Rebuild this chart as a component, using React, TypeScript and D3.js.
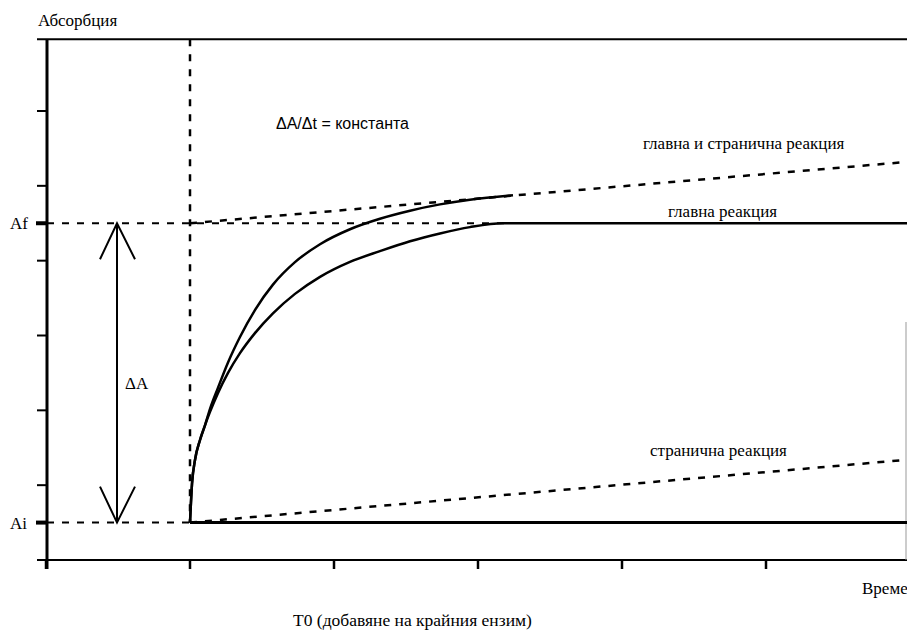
import React from "react";
import * as d3 from "d3";

// time axis (arbitrary units), T0 = 1
const xTicks = [0, 1, 2, 3, 4, 5];
// absorbance axis ticks (arbitrary units)
const yTicks = [0, 1, 2, 3, 4, 5, 6];
const Ai = 0.5;
const Af = 4.5;
const T0 = 1;
const yTop = 6.96;

// main reaction curve
const mainT = [1.0, 1.014, 1.035, 1.069, 1.104, 1.139, 1.194, 1.264, 1.347, 1.451, 1.576, 1.729, 1.903, 2.111, 2.319, 2.528, 2.736, 2.944, 3.174, 5.98];
const mainA = [0.5, 1.02, 1.34, 1.6, 1.8, 1.98, 2.23, 2.5, 2.764, 3.032, 3.296, 3.556, 3.784, 3.984, 4.128, 4.26, 4.364, 4.448, 4.5, 4.5];

// main + side reaction curve (solid part)
const bothT = [1.0, 1.014, 1.035, 1.069, 1.104, 1.139, 1.194, 1.264, 1.347, 1.451, 1.576, 1.729, 1.903, 2.111, 2.319, 2.528, 2.736, 2.944, 3.243];
const bothA = [0.5, 1.02, 1.34, 1.6, 1.8, 2.02, 2.3, 2.64, 2.98, 3.34, 3.68, 3.98, 4.22, 4.42, 4.56, 4.668, 4.752, 4.815, 4.875];

// linear (constant-rate) parts
const bothLineT = [1.0, 5.98];
const bothLineA = [4.5, 5.32];
const sideT = [1.0, 5.98];
const sideA = [0.5, 1.34];

const W = 907;
const H = 632;

export default function App() {
  const x = d3.scaleLinear().domain([0, 6]).range([46, 910]);
  const y = d3.scaleLinear().domain([0, 6]).range([560, 111]);

  const line = d3
    .line<[number, number]>()
    .x((d) => x(d[0]))
    .y((d) => y(d[1]))
    .curve(d3.curveMonotoneX);
  const straight = d3
    .line<[number, number]>()
    .x((d) => x(d[0]))
    .y((d) => y(d[1]));

  const zip = (a: number[], b: number[]) => a.map((v, i) => [v, b[i]] as [number, number]);

  const serif = "'Liberation Serif', 'Times New Roman', serif";
  const sans = "'Liberation Sans', Arial, sans-serif";
  const dash = "7,8";
  const ax = 47;

  const arrowX = 117;
  const yAf = y(Af);
  const yAi = y(Ai);

  return (
    <svg
      width={W}
      height={H}
      style={{ position: "absolute", left: 0, top: 0, background: "#fff" }}
      fontFamily={serif}
    >
      <rect x={0} y={0} width={W} height={H} fill="#fff" />
      {/* frame lines */}
      <line x1={37} x2={W} y1={y(yTop)} y2={y(yTop)} stroke="#000" strokeWidth={2} />
      <line x1={37} x2={W} y1={y(0)} y2={y(0)} stroke="#000" strokeWidth={2} />
      <line x1={ax} x2={ax} y1={y(yTop)} y2={569} stroke="#000" strokeWidth={3} />
      <line x1={906} x2={906} y1={322} y2={y(0)} stroke="#999" strokeWidth={1} />

      {/* y ticks */}
      {yTicks.map((t) => (
        <line key={"yt" + t} x1={37} x2={ax} y1={y(t)} y2={y(t)} stroke="#000" strokeWidth={2} />
      ))}
      {[Ai, Af].map((t) => (
        <line key={"ya" + t} x1={36} x2={ax} y1={y(t)} y2={y(t)} stroke="#000" strokeWidth={4} />
      ))}
      {/* x ticks */}
      {xTicks.map((t) => (
        <line key={"xt" + t} x1={x(t)} x2={x(t)} y1={y(0)} y2={569} stroke="#000" strokeWidth={2.5} />
      ))}

      {/* reference dashed lines */}
      <line x1={ax} x2={x(3.2)} y1={yAf} y2={yAf} stroke="#000" strokeWidth={2} strokeDasharray={dash} />
      <line x1={ax} x2={x(T0)} y1={yAi} y2={yAi} stroke="#000" strokeWidth={2} strokeDasharray={dash} />
      <line x1={x(T0)} x2={x(T0)} y1={y(yTop)} y2={yAi} stroke="#000" strokeWidth={2.5} strokeDasharray={dash} />

      {/* baseline (no reaction) */}
      <line x1={x(T0)} x2={W} y1={yAi} y2={yAi} stroke="#000" strokeWidth={3} />

      {/* side reaction */}
      <path d={straight(zip(sideT, sideA)) || ""} fill="none" stroke="#000" strokeWidth={2.5} strokeDasharray={dash} />
      {/* main + side linear */}
      <path d={straight(zip(bothLineT, bothLineA)) || ""} fill="none" stroke="#000" strokeWidth={2.5} strokeDasharray={dash} />
      {/* curves */}
      <path d={line(zip(mainT, mainA)) || ""} fill="none" stroke="#000" strokeWidth={2.5} />
      <path d={line(zip(bothT, bothA)) || ""} fill="none" stroke="#000" strokeWidth={2.5} />

      {/* delta A arrow */}
      <line x1={arrowX} x2={arrowX} y1={yAf} y2={yAi} stroke="#000" strokeWidth={2} />
      <polyline
        points={`${arrowX - 17},${yAf + 36} ${arrowX},${yAf} ${arrowX + 18},${yAf + 36}`}
        fill="none"
        stroke="#000"
        strokeWidth={2}
      />
      <polyline
        points={`${arrowX - 17},${yAi - 36} ${arrowX},${yAi} ${arrowX + 18},${yAi - 36}`}
        fill="none"
        stroke="#000"
        strokeWidth={2}
      />

      {/* texts */}
      <text x={38} y={26} fontSize={17}>Абсорбция</text>
      <text x={10} y={yAf + 6} fontSize={17}>Af</text>
      <text x={10} y={yAi + 6} fontSize={17}>Ai</text>
      <text x={125} y={389} fontSize={17}>ΔA</text>
      <text x={276} y={129} fontSize={16} fontFamily={sans}>ΔA/Δt = константа</text>
      <text x={643} y={149} fontSize={17}>главна и странична реакция</text>
      <text x={668} y={217} fontSize={17}>главна реакция</text>
      <text x={650} y={456} fontSize={17}>странична реакция</text>
      <text x={862} y={594} fontSize={17}>Време</text>
      <text x={293} y={626} fontSize={17.5}>T0 (добавяне на крайния ензим)</text>
    </svg>
  );
}
